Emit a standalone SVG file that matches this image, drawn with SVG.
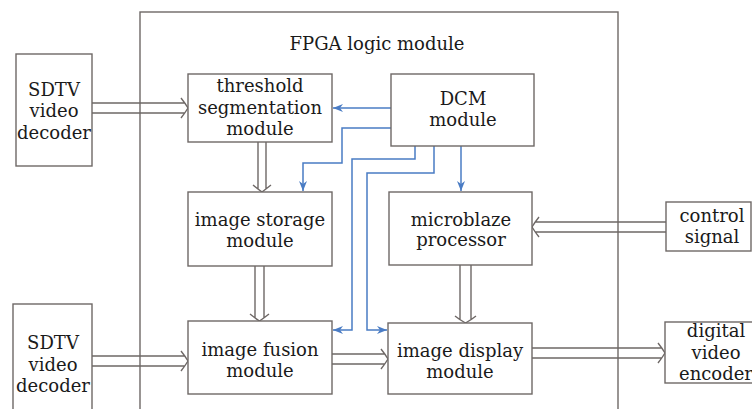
<svg xmlns="http://www.w3.org/2000/svg" width="752" height="409" viewBox="0 0 752 409">
<style>
.box{fill:#fff;stroke:#6e6866;stroke-width:1.4}
.frame{fill:none;stroke:#6e6866;stroke-width:1.4}
.hol{fill:none;stroke:#6e6866;stroke-width:1.4}
.blue{fill:none;stroke:#4a7cc4;stroke-width:1.5}
text{font-family:"DejaVu Serif","Liberation Serif",serif;font-size:18px;fill:#1a1a1a;text-anchor:middle}
</style>
<defs>
<marker id="ba" viewBox="0 0 10 8" refX="10" refY="4" markerWidth="10" markerHeight="8" markerUnits="userSpaceOnUse" orient="auto">
<path d="M0,0 L10,4 L0,8 L3,4 Z" fill="#4a7cc4"/>
</marker>
</defs>
<rect width="752" height="409" fill="#fff"/>
<g id="fpga">
<rect class="frame" x="140" y="12" width="478" height="420"/>
<text x="377" y="50">FPGA logic module</text>
</g>
<g id="connectors">
<path class="hol" d="M92,103 H185 M92,113 H185 M181,98 Q185,103 188,108 Q185,113 181,118"/>
<path class="hol" d="M92,356 H185 M92,366 H185 M181,351 Q185,356 188,361 Q185,366 181,371"/>
<path class="hol" d="M332,354 H385 M332,364 H385 M381,349 Q385,354 388,359 Q385,364 381,369"/>
<path class="hol" d="M532,348 H662 M532,358 H662 M658,343 Q662,348 665,353 Q662,358 658,363"/>
<path class="hol" d="M666,222 H535 M666,232 H535 M539,217 Q535,222 532,227 Q535,232 539,237"/>
<path class="hol" d="M258,142 V189 M266,142 V189 M253,185 Q258,189 262,192 Q266,189 271,185"/>
<path class="hol" d="M255,266 V318 M264,266 V318 M250,314 Q255,318 259.5,321 Q264,318 269,314"/>
<path class="hol" d="M460,265 V320 M471,265 V320 M455,316 Q460,320 465.5,323 Q471,320 476,316"/>
<path class="blue" d="M391,108 H333" marker-end="url(#ba)"/>
<path class="blue" d="M391,128 H342 V163 H303 V191" marker-end="url(#ba)"/>
<path class="blue" d="M415,146 V159 H352 V330 H333" marker-end="url(#ba)"/>
<path class="blue" d="M434,146 V173 H367 V330 H387" marker-end="url(#ba)"/>
<path class="blue" d="M461,146 V191" marker-end="url(#ba)"/>
</g>
<g id="sdtv1">
<rect class="box" x="16" y="54" width="76" height="112"/>
<text x="54" y="96">SDTV</text>
<text x="54" y="117">video</text>
<text x="54" y="139">decoder</text>
</g>
<g id="threshold">
<rect class="box" x="188" y="74" width="144" height="68"/>
<text x="260" y="92">threshold</text>
<text x="260" y="114">segmentation</text>
<text x="260" y="135">module</text>
</g>
<g id="dcm">
<rect class="box" x="391" y="74" width="143" height="72"/>
<text x="463" y="105">DCM</text>
<text x="463" y="126">module</text>
</g>
<g id="storage">
<rect class="box" x="188" y="192" width="144" height="74"/>
<text x="260" y="226">image storage</text>
<text x="260" y="247">module</text>
</g>
<g id="microblaze">
<rect class="box" x="389" y="192" width="143" height="73"/>
<text x="461" y="226">microblaze</text>
<text x="461" y="246">processor</text>
</g>
<g id="control">
<rect class="box" x="666" y="202" width="85" height="49"/>
<text x="712" y="222">control</text>
<text x="712" y="243">signal</text>
</g>
<g id="fusion">
<rect class="box" x="188" y="321" width="144" height="73"/>
<text x="260" y="356">image fusion</text>
<text x="260" y="377">module</text>
</g>
<g id="display">
<rect class="box" x="388" y="323" width="144" height="71"/>
<text x="460" y="357">image display</text>
<text x="460" y="378">module</text>
</g>
<g id="encoder">
<rect class="box" x="665" y="322" width="90" height="61"/>
<text x="716" y="337">digital</text>
<text x="716" y="359">video</text>
<text x="716" y="380">encoder</text>
</g>
<g id="sdtv2">
<rect class="box" x="13" y="304" width="79" height="120"/>
<text x="53" y="349">SDTV</text>
<text x="53" y="371">video</text>
<text x="53" y="392">decoder</text>
</g>
</svg>
